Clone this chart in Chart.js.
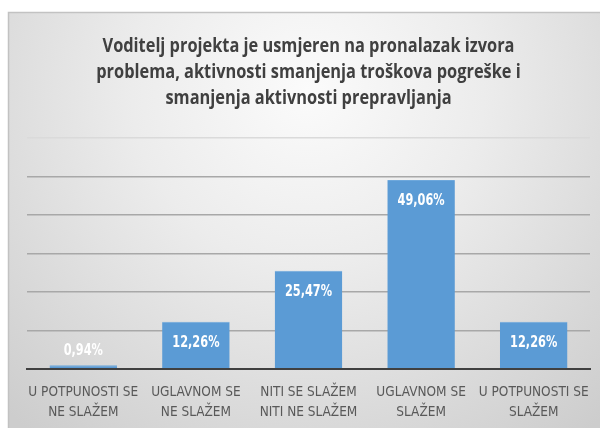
<!DOCTYPE html>
<html>
<head>
<meta charset="utf-8">
<script src="https://cdn.jsdelivr.net/npm/chart.js@4.4.1/dist/chart.umd.min.js"></script>
<style>
  body { margin: 0; background: #fff; }
  #wrap { width: 600px; height: 428px; }
</style>
</head>
<body>
<div id="wrap"><canvas id="survey-chart" width="600" height="428"></canvas></div>
<script>
const titleLines = [
  'Voditelj projekta je usmjeren na pronalazak izvora',
  'problema, aktivnosti smanjenja troškova pogreške i',
  'smanjenja aktivnosti prepravljanja'
];
const categories = [
  ['U POTPUNOSTI SE', 'NE SLAŽEM'],
  ['UGLAVNOM SE', 'NE SLAŽEM'],
  ['NITI SE SLAŽEM', 'NITI NE SLAŽEM'],
  ['UGLAVNOM SE', 'SLAŽEM'],
  ['U POTPUNOSTI SE', 'SLAŽEM']
];
const percentages = [0.94, 12.26, 25.47, 49.06, 12.26];
const yTicks = [0, 10, 20, 30, 40, 50, 60];

const narrowFont = '"DejaVu Sans Condensed", "DejaVu Sans", sans-serif';
const titleFont = '"Open Sans", sans-serif';

// squeezed text, the installed faces are all wider than we want
function drawNarrowText(ctx, text, x, y, squeeze) {
  ctx.save();
  ctx.translate(x, y);
  ctx.scale(squeeze, 1);
  ctx.fillText(text, 0, 0);
  ctx.restore();
}

// grey card behind the chart, lighter towards the top middle
const backgroundPlugin = {
  id: 'cardBackground',
  beforeDraw(chart) {
    const ctx = chart.ctx;
    ctx.save();
    ctx.fillStyle = '#ffffff';
    ctx.fillRect(0, 0, chart.width, chart.height);
    const g = ctx.createRadialGradient(308, 90, 0, 308, 90, 440);
    g.addColorStop(0, '#fbfbfb');
    g.addColorStop(0.4, '#ececec');
    g.addColorStop(1, '#cdcdcd');
    ctx.fillStyle = g;
    ctx.fillRect(8, 12, chart.width - 8, chart.height - 12);
    ctx.strokeStyle = '#c2c2c2';
    ctx.lineWidth = 1.5;
    ctx.beginPath();
    ctx.moveTo(8.5, chart.height);
    ctx.lineTo(8.5, 12.5);
    ctx.lineTo(chart.width, 12.5);
    ctx.stroke();
    ctx.restore();
  }
};

// title drawn by hand so the first line can be squeezed to ~412px
const titlePlugin = {
  id: 'squeezedTitle',
  afterDraw(chart) {
    const ctx = chart.ctx;
    ctx.save();
    ctx.font = 'bold 20px ' + titleFont;
    ctx.fillStyle = '#404040';
    ctx.textAlign = 'center';
    ctx.textBaseline = 'alphabetic';
    const squeeze = Math.min(1, 412 / ctx.measureText(titleLines[0]).width);
    titleLines.forEach((line, i) => {
      drawNarrowText(ctx, line, 308.5, 52 + i * 26, squeeze);
    });
    ctx.restore();
  }
};

// value labels: inside the top of the bar, or above it when the bar is too short
const valueLabelPlugin = {
  id: 'valueLabels',
  afterDatasetsDraw(chart) {
    const ctx = chart.ctx;
    const meta = chart.getDatasetMeta(0);
    ctx.save();
    ctx.font = 'bold 15px ' + narrowFont;
    ctx.fillStyle = '#ffffff';
    ctx.textAlign = 'center';
    ctx.textBaseline = 'middle';
    meta.data.forEach((bar, i) => {
      const h = bar.base - bar.y;
      const y = h > 30 ? bar.y + 21 : bar.y - 14;
      drawNarrowText(ctx, percentages[i].toFixed(2).replace('.', ',') + '%', bar.x, y, 0.84);
    });
    ctx.restore();
  }
};

const ctx = document.getElementById('survey-chart').getContext('2d');
new Chart(ctx, {
  type: 'bar',
  data: {
    labels: categories,
    datasets: [{
      data: percentages,
      backgroundColor: '#5b9bd5',
      borderColor: '#6ea8dc',
      borderWidth: { top: 1, left: 0, right: 0, bottom: 0 },
      categoryPercentage: 1,
      barPercentage: 0.6
    }]
  },
  options: {
    responsive: false,
    animation: false,
    layout: {
      padding: { top: 138, left: 27, right: 10, bottom: 0 }
    },
    plugins: {
      legend: { display: false },
      tooltip: { enabled: false },
      title: { display: false }
    },
    scales: {
      x: {
        grid: { display: false, drawTicks: true, tickLength: 8 },
        border: { color: '#404040', width: 2 },
        ticks: {
          color: '#595959',
          padding: 6,
          maxRotation: 0,
          autoSkip: false,
          font: { family: narrowFont, size: 13.5, lineHeight: 1.45 }
        }
      },
      y: {
        min: yTicks[0],
        max: yTicks[yTicks.length - 1],
        afterBuildTicks: axis => { axis.ticks = yTicks.map(v => ({ value: v })); },
        border: { display: false },
        grid: {
          color: c => c.tick.value === 60 ? '#dadada' : '#a8a8a8',
          lineWidth: 1.5,
          drawTicks: false
        },
        ticks: { display: false }
      }
    }
  },
  plugins: [backgroundPlugin, valueLabelPlugin, titlePlugin]
});
</script>
</body>
</html>
